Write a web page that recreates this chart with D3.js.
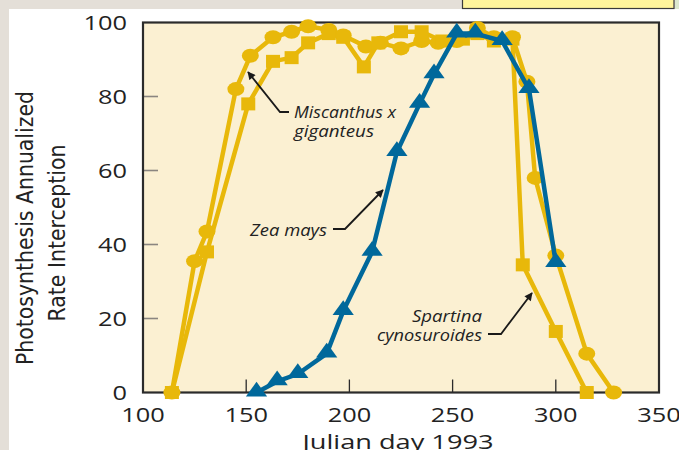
<!DOCTYPE html>
<html><head><meta charset="utf-8">
<script src="https://cdn.jsdelivr.net/npm/d3@7"></script>
<style>
html,body{margin:0;padding:0;background:#fff;}
svg{display:block;}
</style></head>
<body>
<script>
// ---- data ----
const miscanthusDays = [114,125,131,145,152,163,172,180,190,197,208,215,225,235,243,252,262,270,279,286,290,300,315,328];
const miscanthusVals = [0,35.5,43.5,82,91,96,97.5,99,98,96.5,93.5,94.5,93,95,94.5,95,98.5,96,96,84,58,37,10.5,0];
const spartinaDays = [114,131,151,163,172,180,190,197,207,214,225,235,245,255,262,270,279,284,300,315];
const spartinaVals = [0,38,78,89.5,90.5,94.5,97,96,88,94.5,97.5,97.5,95,95.5,97,95,95.5,34.5,16.5,0];
const zeaDays = [155,165,175,189,197,211,223,234,241,252,261,274,287,300];
const zeaVals = [0,3,5,10.5,22,38,65,78,86,97,97,95,82,35];
const xTicks = [100,150,200,250,300,350];
const yTicks = [0,20,40,60,80,100];
const xTitle = "Julian day 1993";
const yTitle = ["Photosynthesis Annualized","Rate Interception"];
const labels = {
  mis: ["Miscanthus x","giganteus"],
  zea: ["Zea mays"],
  spa: ["Spartina","cynosuroides"]
};

const W=679,H=450;
const YEL="#E8B80A", BLUE="#00689B";
const svg=d3.select("body").append("svg").attr("width",W).attr("height",H);

// page background pieces
svg.append("rect").attr("x",0).attr("y",0).attr("width",W).attr("height",H).attr("fill","#fff");
svg.append("rect").attr("x",0).attr("y",0).attr("width",W).attr("height",9).attr("fill","#E4DFD8");
svg.append("rect").attr("x",0).attr("y",0).attr("width",9).attr("height",H).attr("fill","#E4DFD8");
svg.append("rect").attr("x",675).attr("y",0).attr("width",4).attr("height",9).attr("fill","#DCE8CF");
svg.append("rect").attr("x",462.5).attr("y",-2).attr("width",211.5).attr("height",10.5)
  .attr("fill","#FFF59C").attr("stroke","#3a3a3a").attr("stroke-width",1.2);

const x=d3.scaleLinear().domain([100,350]).range([143,659]);
const y=d3.scaleLinear().domain([0,100]).range([392.5,22.5]);

// plot area
svg.append("rect").attr("x",x(100)).attr("y",y(100)).attr("width",x(350)-x(100)).attr("height",y(0)-y(100))
  .attr("fill","#FBF0D2");

// inner ticks
svg.append("g").selectAll("line").data(yTicks.filter(d=>d>0&&d<100)).join("line")
  .attr("x1",x(100)).attr("x2",x(100)+15).attr("y1",d=>y(d)).attr("y2",d=>y(d))
  .attr("stroke","#8a8580").attr("stroke-width",1.6);
svg.append("g").selectAll("line").data(xTicks.filter(d=>d>100&&d<350)).join("line")
  .attr("x1",d=>x(d)).attr("x2",d=>x(d)).attr("y1",y(0)).attr("y2",y(0)-13)
  .attr("stroke","#2b2b2b").attr("stroke-width",1.3);

// frame
svg.append("rect").attr("x",x(100)).attr("y",y(100)).attr("width",x(350)-x(100)).attr("height",y(0)-y(100))
  .attr("fill","none").attr("stroke","#2b2b2b").attr("stroke-width",2.2);

// tick labels
const tickFont="'Open Sans','Noto Sans',sans-serif";
svg.append("g").selectAll("text").data(xTicks).join("text")
  .attr("x",d=>x(d)).attr("y",422).attr("text-anchor","middle")
  .attr("font-family",tickFont).attr("font-size",19.5).attr("fill","#222")
  .attr("textLength",d=>String(d).length*14.5).attr("lengthAdjust","spacingAndGlyphs").text(d=>d);
svg.append("g").selectAll("text").data(yTicks).join("text")
  .attr("x",127).attr("y",d=>y(d)).attr("dy","0.36em").attr("text-anchor","end")
  .attr("font-family",tickFont).attr("font-size",19.5).attr("fill","#222")
  .attr("textLength",d=>String(d).length*14.5).attr("lengthAdjust","spacingAndGlyphs").text(d=>d);

// titles
svg.append("text").attr("x",398).attr("y",449).attr("text-anchor","middle")
  .attr("font-family",tickFont).attr("font-size",20.5).attr("fill","#222")
  .attr("textLength",191).attr("lengthAdjust","spacingAndGlyphs").text(xTitle);
const condensed="'Liberation Sans Narrow','DejaVu Sans Condensed',sans-serif";
yTitle.forEach((t,i)=>{
  svg.append("text").attr("transform",`translate(${33+i*32},${[228,233][i]}) rotate(-90)`)
    .attr("text-anchor","middle").attr("font-family",condensed).attr("font-size",23)
    .attr("textLength",[274,177][i]).attr("lengthAdjust","spacingAndGlyphs")
    .attr("fill","#222").text(t);
});

// series
const line=d3.line().x(d=>x(d[0])).y(d=>y(d[1]));
const mis=d3.zip(miscanthusDays,miscanthusVals);
const spa=d3.zip(spartinaDays,spartinaVals);
const zea=d3.zip(zeaDays,zeaVals);

svg.append("path").datum(mis).attr("d",line).attr("fill","none").attr("stroke",YEL).attr("stroke-width",4.5).attr("stroke-linejoin","round");
svg.append("g").selectAll("ellipse").data(mis).join("ellipse")
  .attr("cx",d=>x(d[0])).attr("cy",d=>y(d[1])).attr("rx",8.5).attr("ry",7).attr("fill",YEL);
svg.append("path").datum(spa).attr("d",line).attr("fill","none").attr("stroke",YEL).attr("stroke-width",4.5).attr("stroke-linejoin","round");
svg.append("g").selectAll("rect").data(spa).join("rect")
  .attr("x",d=>x(d[0])-7).attr("y",d=>y(d[1])-6.5).attr("width",14).attr("height",13).attr("fill",YEL);
svg.append("path").datum(zea).attr("d",line).attr("fill","none").attr("stroke",BLUE).attr("stroke-width",4.5).attr("stroke-linejoin","round");
const tri=d3.symbol().type(d3.symbolTriangle).size(125);
svg.append("g").selectAll("path").data(zea).join("path")
  .attr("transform",d=>`translate(${x(d[0])},${y(d[1])-1}) scale(1.25,1)`).attr("d",tri).attr("fill",BLUE);

// annotations
const defs=svg.append("defs");
defs.append("marker").attr("id","ah").attr("viewBox","0 0 10 10").attr("refX",9).attr("refY",5)
  .attr("markerWidth",10).attr("markerHeight",8).attr("markerUnits","userSpaceOnUse").attr("orient","auto")
  .append("path").attr("d","M0,0 L10,5 L0,10 Z").attr("fill","#1a1a1a");
const ann=[
  {pts:[[289,112],[280,112],[248,72]]},
  {pts:[[333,229],[345,229],[383,190]]},
  {pts:[[488,334],[501,334],[532,293]]}
];
svg.append("g").selectAll("path").data(ann).join("path")
  .attr("d",d=>d3.line()(d.pts)).attr("fill","none").attr("stroke","#1a1a1a").attr("stroke-width",1.8)
  .attr("marker-end","url(#ah)");
const annFont="'Open Sans','Noto Sans',sans-serif";
function addLabel(lines,widths,xp,ys,anchor){
  lines.forEach((t,i)=>svg.append("text").attr("x",xp).attr("y",ys[i]).attr("text-anchor",anchor)
    .attr("font-family",annFont).attr("font-style","italic").attr("font-size",17).attr("fill","#222")
    .attr("textLength",widths[i]).attr("lengthAdjust","spacingAndGlyphs").text(t));
}
addLabel(labels.mis,[102,80],294,[118,137],"start");
addLabel(labels.zea,[77],327,[236],"end");
addLabel(labels.spa,[70,105],482,[322,341],"end");
</script>
</body></html>
